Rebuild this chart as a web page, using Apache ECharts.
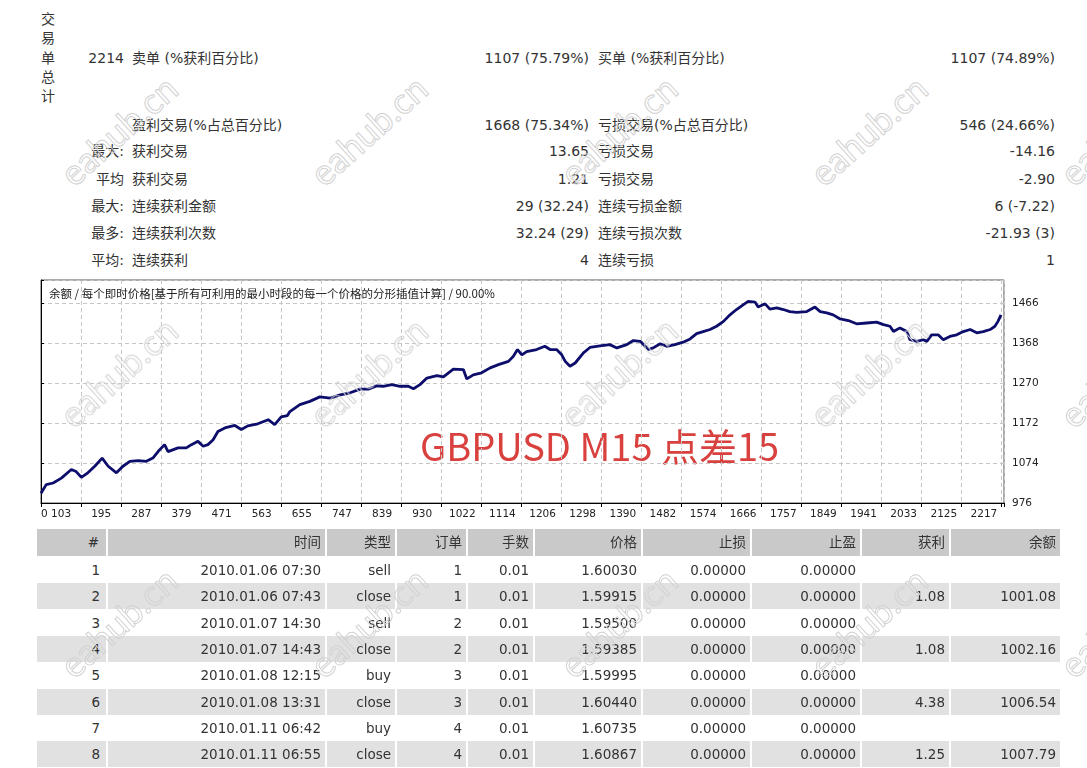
<!DOCTYPE html>
<html>
<head>
<meta charset="utf-8">
<script src="https://cdn.jsdelivr.net/npm/echarts@6/dist/echarts.min.js"></script>
<style>
html, body { margin: 0; padding: 0; background: #fff; }
#page { position: relative; width: 1087px; height: 768px; overflow: hidden;
        font-family: "DejaVu Sans", "Noto Sans CJK SC", sans-serif; color: #333; }
.t { position: absolute; white-space: nowrap; height: 20px; line-height: 20px; font-size: 14px; }
.r { text-align: right; }
#vtitle { position: absolute; left: 40px; top: 10px; width: 16px; font-size: 14px; line-height: 19.3px; text-align: center; }
#chart { position: absolute; left: 0; top: 270px; width: 1087px; height: 262px; }
.cell { position: absolute; box-sizing: border-box; line-height: 26px; font-size: 13.5px;
        text-align: right; padding-right: 4px; white-space: nowrap; }
.wm { position: absolute; font-family: Lato, "DejaVu Sans", sans-serif; font-size: 36px; color: transparent;
      -webkit-text-stroke: 1px #d2d2d2; transform: translate(-50%, -50%) rotate(-42deg);
      white-space: nowrap; pointer-events: none; }
</style>
</head>
<body>
<div id="page">
  <div id="vtitle"></div>
  <div id="stats"></div>
  <div id="chart"></div>
  <div id="table"></div>
  <div id="marks"></div>
</div>
<script>
// ---- summary block ----
const summaryTitle = '交易单总计';
const statLabels = ['2214', '', '最大:', '平均', '最大:', '最多:', '平均:'];
const statLeftNames = ['卖单 (%获利百分比)', '盈利交易(%占总百分比)', '获利交易', '获利交易', '连续获利金额', '连续获利次数', '连续获利'];
const statLeftValues = ['1107 (75.79%)', '1668 (75.34%)', '13.65', '1.21', '29 (32.24)', '32.24 (29)', '4'];
const statRightNames = ['买单 (%获利百分比)', '亏损交易(%占总百分比)', '亏损交易', '亏损交易', '连续亏损金额', '连续亏损次数', '连续亏损'];
const statRightValues = ['1107 (74.89%)', '546 (24.66%)', '-14.16', '-2.90', '6 (-7.22)', '-21.93 (3)', '1'];

// ---- chart ----
const chartTitle = '余额 / 每个即时价格[基于所有可利用的最小时段的每一个价格的分形插值计算] / 90.00%';
const chartNote = 'GBPUSD M15 点差15';
const xTickLabels = ['0', '103', '195', '287', '379', '471', '563', '655', '747', '839', '930', '1022', '1114',
  '1206', '1298', '1390', '1482', '1574', '1666', '1757', '1849', '1941', '2033', '2125', '2217'];
const yTickLabels = [976, 1074, 1172, 1270, 1368, 1466];
const tradeIndex = [0, 12, 28, 47, 70, 81, 93, 108, 124, 141,
  155, 174, 189, 205, 224, 243, 258, 270, 285, 293,
  316, 335, 347, 362, 374, 385, 397, 408, 424, 447,
  462, 477, 500, 524, 539, 554, 568, 574, 597, 620,
  643, 667, 690, 713, 736, 755, 774, 789, 809, 828,
  847, 859, 874, 890, 913, 928, 951, 974, 982, 997,
  1016, 1036, 1055, 1078, 1089, 1099, 1109, 1120, 1143, 1162,
  1174, 1189, 1201, 1209, 1220, 1232, 1251, 1266, 1289, 1312,
  1328, 1351, 1366, 1382, 1401, 1412, 1428, 1443, 1462, 1481,
  1497, 1512, 1527, 1543, 1558, 1574, 1589, 1604, 1620, 1631,
  1647, 1654, 1670, 1681, 1697, 1712, 1727, 1743, 1766, 1785,
  1797, 1812, 1827, 1843, 1862, 1881, 1904, 1927, 1943, 1958,
  1966, 1981, 1997, 2004, 2020, 2035, 2043, 2054, 2069, 2081,
  2096, 2112, 2127, 2143, 2158, 2173, 2189, 2200, 2207, 2214];
const balance = [1000, 1021, 1025, 1037, 1058, 1053, 1039, 1050, 1066, 1086,
  1066, 1050, 1066, 1078, 1080, 1078, 1086, 1102, 1119, 1102,
  1111, 1111, 1119, 1127, 1115, 1119, 1131, 1151, 1160, 1166,
  1156, 1165, 1170, 1180, 1168, 1187, 1190, 1200, 1217, 1225,
  1236, 1233, 1241, 1246, 1255, 1255, 1263, 1262, 1266, 1262,
  1262, 1256, 1266, 1282, 1288, 1285, 1304, 1303, 1280, 1290,
  1295, 1307, 1315, 1323, 1335, 1352, 1339, 1347, 1352, 1360,
  1352, 1352, 1339, 1323, 1311, 1319, 1344, 1357, 1361, 1364,
  1356, 1364, 1374, 1372, 1352, 1356, 1366, 1360, 1364, 1370,
  1378, 1391, 1396, 1401, 1409, 1421, 1437, 1450, 1462, 1470,
  1468, 1456, 1464, 1451, 1454, 1450, 1445, 1443, 1445, 1456,
  1445, 1442, 1437, 1427, 1423, 1415, 1417, 1419, 1413, 1409,
  1396, 1405, 1396, 1376, 1372, 1376, 1372, 1388, 1388, 1376,
  1384, 1388, 1396, 1401, 1393, 1396, 1401, 1409, 1421, 1437];

// ---- trade table ----
const tableHeader = ['#', '时间', '类型', '订单', '手数', '价格', '止损', '止盈', '获利', '余额'];
const tradeNo = ['1', '2', '3', '4', '5', '6', '7', '8'];
const tradeTime = ['2010.01.06 07:30', '2010.01.06 07:43', '2010.01.07 14:30', '2010.01.07 14:43',
  '2010.01.08 12:15', '2010.01.08 13:31', '2010.01.11 06:42', '2010.01.11 06:55'];
const tradeType = ['sell', 'close', 'sell', 'close', 'buy', 'close', 'buy', 'close'];
const tradeOrder = ['1', '1', '2', '2', '3', '3', '4', '4'];
const tradeLots = ['0.01', '0.01', '0.01', '0.01', '0.01', '0.01', '0.01', '0.01'];
const tradePrice = ['1.60030', '1.59915', '1.59500', '1.59385', '1.59995', '1.60440', '1.60735', '1.60867'];
const tradeSL = ['0.00000', '0.00000', '0.00000', '0.00000', '0.00000', '0.00000', '0.00000', '0.00000'];
const tradeTP = ['0.00000', '0.00000', '0.00000', '0.00000', '0.00000', '0.00000', '0.00000', '0.00000'];
const tradeProfit = ['', '1.08', '', '1.08', '', '4.38', '', '1.25'];
const tradeBalance = ['', '1001.08', '', '1002.16', '', '1006.54', '', '1007.79'];

const W = 1087;
function put(parent, text, style, cls) {
  const d = document.createElement('div');
  d.className = cls || 't';
  d.style.cssText = style;
  d.textContent = text;
  parent.appendChild(d);
  return d;
}

// summary
document.getElementById('vtitle').innerHTML = summaryTitle.split('').join('<br>');
const stats = document.getElementById('stats');
const rowY = [58, 125, 151, 179, 206, 233, 260];
rowY.forEach(function (y, i) {
  const top = (y - 10) + 'px';
  if (statLabels[i]) put(stats, statLabels[i], 'top:' + top + ';right:' + (W - 124) + 'px', 't r');
  put(stats, statLeftNames[i], 'top:' + top + ';left:132px');
  put(stats, statLeftValues[i], 'top:' + top + ';right:' + (W - 589) + 'px', 't r');
  put(stats, statRightNames[i], 'top:' + top + ';left:598px');
  put(stats, statRightValues[i], 'top:' + top + ';right:' + (W - 1055) + 'px', 't r');
});

// table
const table = document.getElementById('table');
const colLeft = [37, 108, 327, 397, 468, 535, 643, 752, 862, 951];
const colRight = [106, 325, 395, 466, 533, 641, 750, 860, 949, 1060];
const columns = [tradeNo, tradeTime, tradeType, tradeOrder, tradeLots, tradePrice, tradeSL, tradeTP, tradeProfit, tradeBalance];
tableHeader.forEach(function (h, c) {
  put(table, h, 'left:' + colLeft[c] + 'px;width:' + (colRight[c] - colLeft[c]) + 'px;top:529px;height:27px;line-height:27px;background:#c9c9c9;' +
    (c === 0 ? 'padding-right:7px;' : ''), 'cell');
});
tradeNo.forEach(function (n, r) {
  const top = 557 + r * 26.3;
  const bg = r % 2 === 1 ? '#e1e1e1' : '#fff';
  columns.forEach(function (col, c) {
    put(table, col[r], 'left:' + colLeft[c] + 'px;width:' + (colRight[c] - colLeft[c]) + 'px;top:' + top + 'px;height:26px;background:' + bg + ';' +
      (c === 0 ? 'padding-right:6px;' : ''), 'cell');
  });
});

// watermarks
const markX = [118, 368, 618, 868, 1118];
const markY = [130, 372, 622];
const marks = document.getElementById('marks');
markY.forEach(function (y) {
  markX.forEach(function (x) {
    put(marks, 'eahub.cn', 'left:' + x + 'px;top:' + y + 'px', 'wm');
  });
});

// chart
const Y0 = yTickLabels[0];
const YSTEP = yTickLabels[1] - yTickLabels[0];
const LAST_TRADE = 2214;
const XSTEP = LAST_TRADE / 24;
const points = tradeIndex.map(function (t, i) { return [t, balance[i] - Y0]; });

const chart = echarts.init(document.getElementById('chart'), null, { renderer: 'canvas' });
chart.setOption({
  animation: false,
  title: {
    text: chartTitle, left: 44, top: 13,
    textStyle: { fontSize: 11.5, fontWeight: 'normal', color: '#222', fontFamily: 'Noto Sans CJK SC' }
  },
  grid: { left: 41, top: 10, width: 963, height: 223, show: true, borderColor: '#555', borderWidth: 1 },
  xAxis: [{
    type: 'value', min: 0, max: LAST_TRADE * 963 / 960, interval: XSTEP, position: 'bottom',
    axisLine: { show: true, lineStyle: { color: '#000' } },
    axisTick: { show: true, length: 4, lineStyle: { color: '#000' } },
    axisLabel: {
      align: 'left', margin: 6, fontSize: 10.5, color: '#222', fontFamily: 'DejaVu Sans',
      formatter: function (v) { return v === 0 ? xTickLabels[0] : ''; }
    },
    splitLine: { show: true, lineStyle: { type: [4, 3], color: '#c6c6c6' } }
  }, {
    type: 'category', data: xTickLabels.slice(1), boundaryGap: true, position: 'bottom',
    axisLine: { show: false }, axisTick: { show: false }, splitLine: { show: false },
    axisLabel: { interval: 0, margin: 6, fontSize: 10.5, color: '#222', fontFamily: 'DejaVu Sans' }
  }],
  yAxis: {
    type: 'value', position: 'right', min: 0, max: 223 / 40 * YSTEP, interval: YSTEP,
    axisLine: { show: true, lineStyle: { color: '#000' } },
    axisTick: { show: true, length: 3, lineStyle: { color: '#000' } },
    axisLabel: {
      margin: 8, fontSize: 10.5, color: '#222', fontFamily: 'DejaVu Sans',
      formatter: function (v) {
        const k = Math.round(v / YSTEP);
        return Math.abs(v - k * YSTEP) < 1e-6 && yTickLabels[k] !== undefined ? String(yTickLabels[k]) : '';
      }
    },
    splitLine: { show: true, lineStyle: { type: [4, 3], color: '#c6c6c6' } }
  },
  graphic: [{
    type: 'text', left: 420, top: 158,
    style: { text: chartNote, fill: '#d9413f', font: '38px "Noto Sans CJK SC"' }
  }],
  series: [{
    type: 'line', xAxisIndex: 0, yAxisIndex: 0, data: points,
    showSymbol: false, lineStyle: { color: '#0d0d6b', width: 2.8 }
  }]
});
</script>
</body>
</html>
